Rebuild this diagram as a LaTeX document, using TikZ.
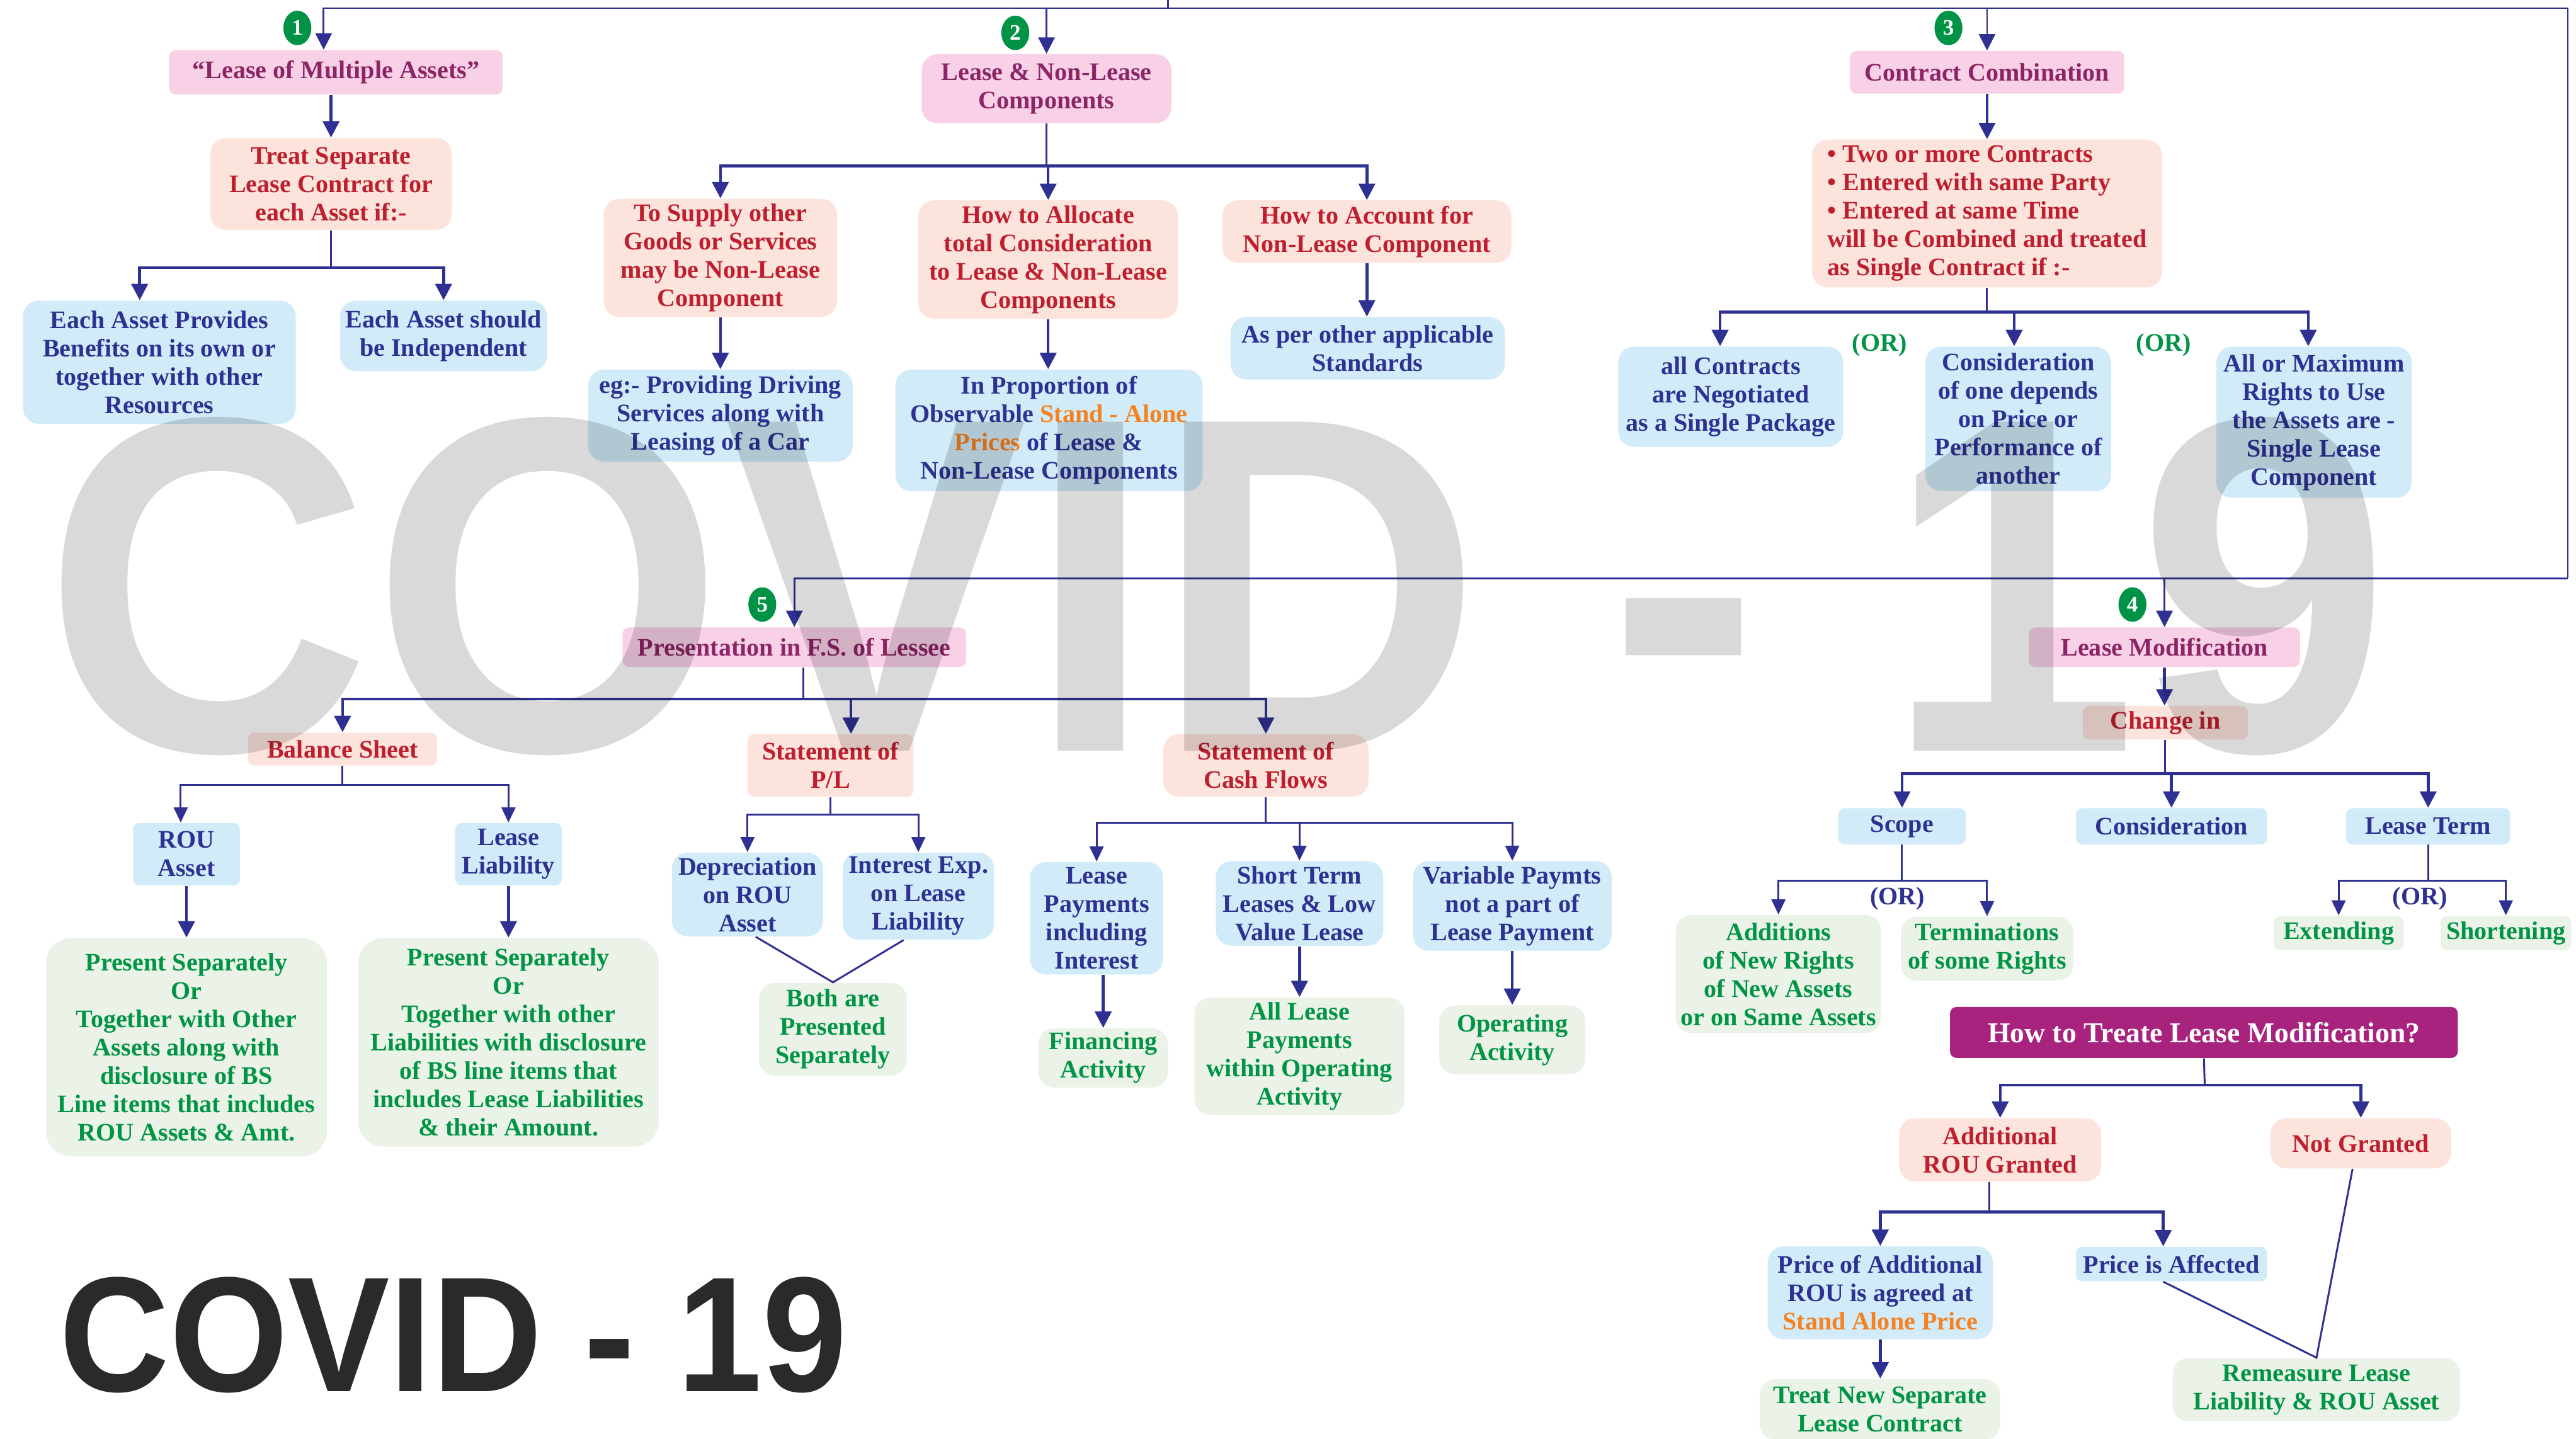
\documentclass[tikz,border=0pt]{standalone}
\usepackage{fontspec}
\setmainfont{Liberation Serif}
\newfontfamily\wmfont{Liberation Sans}
\usepackage{xcolor}
\usepackage{graphicx}
\usepackage{tikz}
\usetikzlibrary{arrows.meta,shapes.geometric}

\definecolor{lineblue}{RGB}{46,49,146}
\definecolor{pinkbg}{RGB}{249,209,231}
\definecolor{pinktext}{RGB}{139,37,102}
\definecolor{salmonbg}{RGB}{252,228,220}
\definecolor{redtext}{RGB}{190,30,45}
\definecolor{bluebg}{RGB}{209,236,248}
\definecolor{greenbg}{RGB}{235,243,232}
\definecolor{greentext}{RGB}{0,148,68}
\definecolor{orangetext}{RGB}{245,130,32}
\definecolor{magentabg}{RGB}{168,35,126}
\definecolor{badgegreen}{RGB}{0,146,69}
\definecolor{darktext}{RGB}{43,41,42}

\newcommand{\px}{0.026084cm}
\newcommand{\boxfont}{\fontsize{11.4}{12.8}\selectfont\bfseries}

\tikzset{
  box/.style 2 args={minimum width=#1*\px, minimum height=#2*\px, inner sep=1pt,
    align=center, font=\boxfont, rounded corners=0.25cm},
  pinkbox/.style={fill=pinkbg, text=pinktext},
  redbox/.style={fill=salmonbg, text=redtext},
  bluebox/.style={fill=bluebg, text=lineblue},
  greenbox/.style={fill=greenbg, text=greentext},
  flat/.style={rounded corners=0.1cm},
  badge/.style={ellipse, fill=badgegreen, text=white, minimum width=17*\px,
    minimum height=21*\px, inner sep=0pt, font=\fontsize{10}{10}\selectfont\bfseries},
  arr/.style={draw=lineblue, line width=1.3pt, -{Triangle[width=0.26cm,length=0.26cm]}},
  tarr/.style={draw=lineblue, line width=0.85pt, -{Triangle[width=0.22cm,length=0.24cm]}},
  conn/.style={draw=lineblue, line width=0.85pt},
  ortext/.style={font=\boxfont, inner sep=1pt},
}

\begin{document}
\begin{tikzpicture}[x=\px, y=-\px]
\useasboundingbox (0,0) rectangle (1568,876);
\fill[white] (0,0) rectangle (1568,876);

% 1 -- lease of multiple assets
\node[box={203}{27}, pinkbox, flat] (lma) at (204.5,44) {“Lease of Multiple Assets”};
\node[box={147}{56}, redbox] (treat) at (201.5,112) {Treat Separate\\Lease Contract for\\each Asset if:-};
\node[box={166}{75}, bluebox] (each1) at (97,220.5) {Each Asset Provides\\Benefits on its own or\\together with other\\Resources};
\node[box={126}{43}, bluebox] (each2) at (270,204.5) {Each Asset should\\be Independent};

% 2 -- lease and non-lease components
\node[box={152}{42}, pinkbox] (lnl) at (637,54) {Lease \& Non-Lease\\Components};
\node[box={142}{72}, redbox] (supply) at (438.5,157) {To Supply other\\Goods or Services\\may be Non-Lease\\Component};
\node[box={161}{56}, bluebox] (drive) at (438.5,253) {eg:- Providing Driving\\Services along with\\Leasing of a Car};
\node[box={158}{72}, redbox] (alloc) at (638,158) {How to Allocate\\total Consideration\\to Lease \& Non-Lease\\Components};
\node[box={187}{74}, bluebox] (propn) at (638.5,262) {In Proportion of\\Observable \textcolor{orangetext}{Stand - Alone}\\\textcolor{orangetext}{Prices} of Lease \&\\Non-Lease Components};
\node[box={176}{38}, redbox] (acct) at (832,141) {How to Account for\\Non-Lease Component};
\node[box={167}{38}, bluebox] (stds) at (832.5,212) {As per other applicable\\Standards};

% 3 -- contract combination
\node[box={167}{26}, pinkbox, flat] (ccomb) at (1209.5,44) {Contract Combination};
\node[box={213}{90}, redbox, align=left] (crit) at (1209.5,130) {• Two or more Contracts\\• Entered with same Party\\• Entered at same Time\\will be Combined and treated\\as Single Contract if :-};
\node[box={137}{61}, bluebox] (negot) at (1053.5,241.5) {all Contracts\\are Negotiated\\as a Single Package};
\node[box={113}{88}, bluebox] (depend) at (1228.5,255) {Consideration\\of one depends\\on Price or\\Performance of\\another};
\node[box={119}{92}, bluebox] (maxr) at (1408.5,257) {All or Maximum\\Rights to Use\\the Assets are -\\Single Lease\\Component};
\node[ortext, text=greentext] (or1) at (1144,210) {(OR)};
\node[ortext, text=greentext] (or2) at (1317,210) {(OR)};

% 5 -- presentation
\node[box={209}{24}, pinkbox, flat] (pres) at (483.5,394) {Presentation in F.S. of Lessee};
\node[box={115}{20}, redbox, flat] (bal) at (208.5,456) {Balance Sheet};
\node[box={101}{38}, redbox, flat] (pl) at (505.5,466) {Statement of\\P/L};
\node[box={125}{38}, redbox] (cf) at (770.5,466) {Statement of\\Cash Flows};
\node[box={65}{38}, bluebox, flat] (rou) at (113.5,520) {ROU\\Asset};
\node[box={65}{38}, bluebox, flat] (liab) at (309.5,520) {Lease\\Liability};
\node[box={171}{133}, greenbox, rounded corners=0.4cm] (rougr) at (113.5,637.5) {Present Separately\\Or\\Together with Other\\Assets along with\\disclosure of BS\\Line items that includes\\ROU Assets \& Amt.};
\node[box={183}{127}, greenbox, rounded corners=0.4cm] (liabgr) at (309.5,634.5) {Present Separately\\Or\\Together with other\\Liabilities with disclosure\\of BS line items that\\includes Lease Liabilities\\\& their Amount.};
\node[box={92}{51}, bluebox] (dep) at (455,544.5) {Depreciation\\on ROU\\Asset};
\node[box={92}{53}, bluebox] (intx) at (559,545.5) {Interest Exp.\\on Lease\\Liability};
\node[box={90}{56.5}, greenbox] (both) at (507,626.5) {Both are\\Presented\\Separately};
\node[box={81}{68.5}, bluebox] (lpay) at (667.5,559) {Lease\\Payments\\including\\Interest};
\node[box={102}{51.5}, bluebox] (stl) at (791,550) {Short Term\\Leases \& Low\\Value Lease};
\node[box={121}{54.5}, bluebox] (varp) at (920.5,551.5) {Variable Paymts\\not a part of\\Lease Payment};
\node[box={79}{36}, greenbox] (fin) at (671.5,644) {Financing\\Activity};
\node[box={128}{71.5}, greenbox] (opall) at (791,643) {All Lease\\Payments\\within Operating\\Activity};
\node[box={89}{42}, greenbox] (opact) at (920.5,633) {Operating\\Activity};

% 4 -- lease modification
\node[box={165}{24}, pinkbox, flat] (lmod) at (1317.5,394) {Lease Modification};
\node[box={100.5}{20.5}, redbox, flat] (chg) at (1318,440) {Change in};
\node[box={77.5}{22}, bluebox, flat] (scope) at (1157.75,503) {Scope};
\node[box={116.5}{22}, bluebox, flat] (consid) at (1321.75,503) {Consideration};
\node[box={100}{22}, bluebox, flat] (lterm) at (1478,503) {Lease Term};
\node[box={125}{72}, greenbox] (addn) at (1082.5,593) {Additions\\of New Rights\\of New Assets\\or on Same Assets};
\node[box={105}{39}, greenbox] (termn) at (1209.5,577.5) {Terminations\\of some Rights};
\node[box={79}{21}, greenbox, flat] (ext) at (1423.5,568) {Extending};
\node[box={79.5}{21}, greenbox, flat] (shrt) at (1525.3,568) {Shortening};
\node[ortext, text=lineblue] (or3) at (1155,547) {(OR)};
\node[ortext, text=lineblue] (or4) at (1473,547) {(OR)};
\node[box={309}{31}, fill=magentabg, text=white, flat, font=\fontsize{13}{14}\selectfont\bfseries] (howto) at (1341.5,628.5) {How to Treate Lease Modification?};
\node[box={123}{38.5}, redbox] (addrou) at (1217.5,700) {Additional\\ROU Granted};
\node[box={110}{30.5}, redbox] (notgr) at (1437,696) {Not Granted};
\node[box={137}{56.5}, bluebox] (padd) at (1144.5,787) {Price of Additional\\ROU is agreed at\\\textcolor{orangetext}{Stand Alone Price}};
\node[box={116.5}{21}, bluebox, flat] (paff) at (1321.75,769.5) {Price is Affected};
\node[box={146.5}{37}, greenbox] (tnew) at (1144.3,858) {Treat New Separate\\Lease Contract};
\node[box={175}{38.5}, greenbox] (remeas) at (1410,846) {Remeasure Lease\\Liability \& ROU Asset};

% number badges
\node[badge] (n1) at (181,17) {1};
\node[badge] (n2) at (618,20) {2};
\node[badge] (n3) at (1186,17) {3};
\node[badge] (n5) at (464,368) {5};
\node[badge] (n4) at (1298,368) {4};

% main frame
\coordinate (src) at (711,0);
\coordinate (topbus) at (711,5);
\coordinate (rtop) at (1563,5);
\coordinate (rlow) at (1563,352);
\draw[conn, line width=0.7pt] (src) -- (topbus) -- (rtop) -- (rlow);
\draw[arr, line width=0.8pt] (topbus) -| ([xshift=-7.5*\px]lma.north);
\draw[arr, line width=0.8pt] (topbus) -| (lnl.north);
\draw[arr, line width=0.8pt] (topbus) -| (ccomb.north);
\draw[arr, line width=0.8pt] (rlow) -| (pres.north);
\draw[arr, line width=0.8pt] (rlow) -| (lmod.north);

% connectors 1
\coordinate (tsplit) at (201.5,163);
\draw[arr] (treat.north |- lma.south) -- (treat.north);
\draw[conn] (treat.south) -- (tsplit);
\draw[arr] (tsplit) -| ([xshift=-12*\px]each1.north);
\draw[arr] (tsplit) -| (each2.north);

% connectors 2
\coordinate (lsplit) at (637,101);
\draw[conn] (lnl.south) -- (lsplit);
\draw[arr] (lsplit) -| (supply.north);
\draw[arr] (lsplit) -| (alloc.north);
\draw[arr] (lsplit) -| (acct.north);
\draw[arr] (supply.south) -- (drive.north);
\draw[arr] (alloc.south) -- (alloc.south |- propn.north);
\draw[arr] (acct.south) -- (acct.south |- stds.north);

% connectors 3
\coordinate (csplit) at (1209.5,190);
\draw[arr] (ccomb.south) -- (crit.north);
\draw[conn] (crit.south) -- (csplit);
\draw[arr] (csplit) -| ([xshift=-6.5*\px]negot.north);
\draw[arr] (csplit) -| ([xshift=-2.5*\px]depend.north);
\draw[arr] (csplit) -| ([xshift=-3.5*\px]maxr.north);

% connectors 5
\coordinate (psplit) at (489,425.6);
\draw[conn] (psplit |- pres.south) -- (psplit);
\draw[arr] (psplit) -| (bal.north);
\draw[arr] (psplit) -| ([xshift=12.5*\px]pl.north);
\draw[arr] (psplit) -| (cf.north);
\coordinate (bsplit) at (208.5,478);
\draw[conn] (bal.south) -- (bsplit);
\draw[tarr] (bsplit) -| ([xshift=-3.5*\px]rou.north);
\draw[tarr] (bsplit) -| (liab.north);
\draw[arr] (rou.south) -- (rougr.north);
\draw[arr] (liab.south) -- (liabgr.north);
\coordinate (plsplit) at (505.5,496);
\draw[conn] (pl.south) -- (plsplit);
\draw[tarr] (plsplit) -| (dep.north);
\draw[tarr] (plsplit) -| (intx.north);
\draw[conn] ([xshift=5*\px]dep.south) -- (both.north) -- ([xshift=-9*\px]intx.south);
\coordinate (cfsplit) at (770.5,501);
\draw[conn] (cf.south) -- (cfsplit);
\draw[tarr] (cfsplit) -| (lpay.north);
\draw[tarr] (cfsplit) -| (stl.north);
\draw[tarr] (cfsplit) -| (varp.north);
\draw[arr] (fin.north |- lpay.south) -- (fin.north);
\draw[arr] (stl.south) -- (stl.south |- opall.north);
\draw[arr] (varp.south) -- (varp.south |- opact.north);

% connectors 4
\coordinate (chsplit) at (1318,471);
\draw[arr] (lmod.south) -- (lmod.south |- chg.north);
\draw[conn] (chg.south) -- (chsplit);
\draw[arr] (chsplit) -| (scope.north);
\draw[arr] (chsplit) -| (consid.north);
\draw[arr] (chsplit) -| (lterm.north);
\coordinate (scsplit) at (1157.75,536);
\draw[conn] (scope.south) -- (scsplit);
\draw[tarr] (scsplit) -| (addn.north);
\draw[tarr] (scsplit) -| (termn.north);
\coordinate (ltsplit) at (1478,536);
\draw[conn] (lterm.south) -- (ltsplit);
\draw[tarr] (ltsplit) -| (ext.north);
\draw[tarr] (ltsplit) -| (shrt.north);
\coordinate (htsplit) at (1342,660.6);
\draw[conn] (howto.south) -- (htsplit);
\draw[arr] (htsplit) -| (addrou.north);
\draw[arr] (htsplit) -| (notgr.north);
\coordinate (arsplit) at (1211,737.7);
\draw[conn] (arsplit |- addrou.south) -- (arsplit);
\draw[arr] (arsplit) -| (padd.north);
\draw[arr] (arsplit) -| ([xshift=-5*\px]paff.north);
\draw[arr] (padd.south) -- (padd.south |- tnew.north);
\draw[conn] ([xshift=-5*\px]paff.south) -- (remeas.north) -- ([xshift=-5*\px]notgr.south);

% watermark
\node[anchor=base west, text=black, text opacity=0.15, inner sep=0pt,
  font=\wmfont\bfseries\fontsize{216}{216}\selectfont] (wm) at (26,457) {\scalebox{0.95}[1]{COVID - 19}};
\node[anchor=base west, text=darktext, inner sep=0pt,
  font=\wmfont\bfseries\fontsize{74}{74}\selectfont] (cv) at (36,847) {\scalebox{0.93}[1]{COVID - 19}};
\end{tikzpicture}
\end{document}
